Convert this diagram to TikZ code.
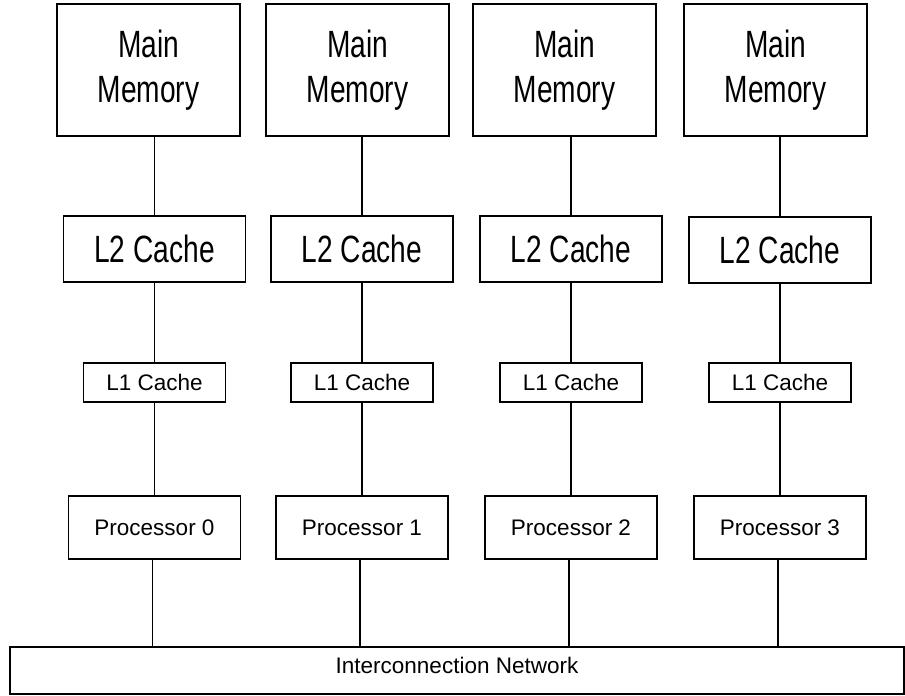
\documentclass[tikz,border=0pt]{standalone}
\usepackage{fontspec}
\setmainfont{Liberation Sans}
\newfontfamily\narrowfont[FakeStretch=0.74]{Liberation Sans}
\begin{document}
\begin{tikzpicture}[x=1pt,y=-1pt,
  unit/.style={draw, line width=1.2pt, inner sep=0pt, outer sep=0pt, align=center},
  bigtext/.style={font=\narrowfont\fontsize{38}{45}\selectfont},
  smalltext/.style={font=\fontsize{22.5}{27}\selectfont},
  memory/.style={unit, bigtext, minimum width=183pt, minimum height=132pt},
  ltwo/.style={unit, bigtext, minimum width=182pt, minimum height=66pt},
  lone/.style={unit, smalltext, minimum width=142pt, minimum height=39pt},
  cpu/.style={unit, smalltext, minimum width=172pt, minimum height=63pt},
  wire/.style={line width=1.1pt}]
\useasboundingbox (0,0) rectangle (905,696);

% main memories
\node[memory] (mm0) at (148.5,70) {Main\\Memory};
\node[memory] (mm1) at (357.5,70) {Main\\Memory};
\node[memory] (mm2) at (564.5,70) {Main\\Memory};
\node[memory] (mm3) at (775.5,70) {Main\\Memory};

% level-2 caches
\node[ltwo] (ltwo0) at (154.5,249) {L2 Cache};
\node[ltwo] (ltwo1) at (362,249) {L2 Cache};
\node[ltwo] (ltwo2) at (571,249) {L2 Cache};
\node[ltwo] (ltwo3) at (780,250) {L2 Cache};

% level-1 caches
\node[lone] (lone0) at (154.5,382.5) {L1 Cache};
\node[lone] (lone1) at (362,382.5) {L1 Cache};
\node[lone] (lone2) at (571,382.5) {L1 Cache};
\node[lone] (lone3) at (780,382.5) {L1 Cache};

% processors
\node[cpu] (cpu0) at (154.5,527.5) {Processor 0};
\node[cpu] (cpu1) at (362,527.5) {Processor 1};
\node[cpu] (cpu2) at (571,527.5) {Processor 2};
\node[cpu] (cpu3) at (780,527.5) {Processor 3};

% shared interconnect
\node[unit, smalltext, line width=1.6pt, minimum width=894pt, minimum height=47pt,
      text height=16pt, text depth=11pt] (net) at (457,670.5) {Interconnection Network};

% vertical links in each column
\foreach \i in {0,1,2,3}{
  \draw[wire] (ltwo\i.north) -- (ltwo\i.north |- mm\i.south);
  \draw[wire] (ltwo\i.south) -- (lone\i.north);
  \draw[wire] (lone\i.south) -- (cpu\i.north);
  \draw[wire] ([xshift=-2pt]cpu\i.south) -- ([xshift=-2pt]cpu\i.south |- net.north);
}
\end{tikzpicture}
\end{document}
